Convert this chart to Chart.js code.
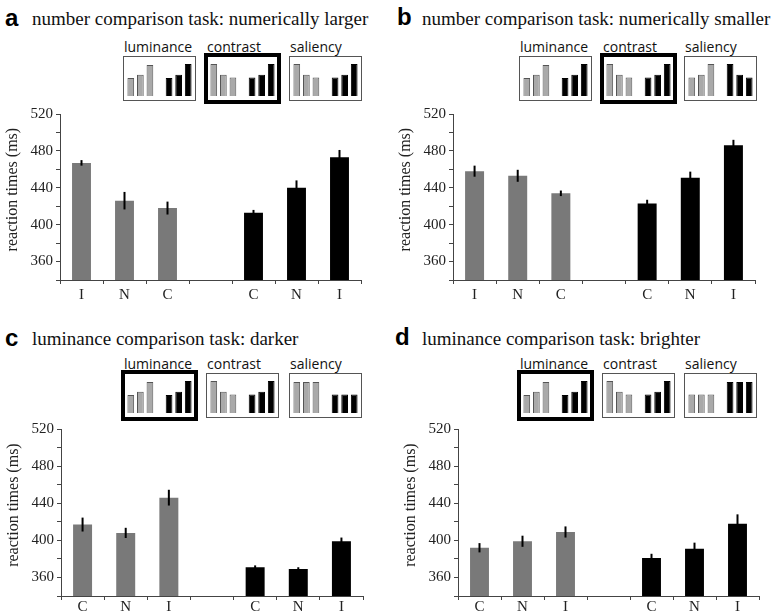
<!DOCTYPE html>
<html>
<head>
<meta charset="utf-8">
<script src="https://cdn.jsdelivr.net/npm/chart.js@4.4.1/dist/chart.umd.min.js"></script>
<style>
  body { margin: 0; background: #fff; width: 777px; height: 616px; position: relative; overflow: hidden; }
  .abs { position: absolute; }
  .letter { font: bold 24px "Liberation Sans", Arial, sans-serif; line-height: 24px; color: #000; }
  .title { font: 19px "Liberation Serif", "Times New Roman", serif; line-height: 19px; white-space: nowrap; color: #111; }
  .ilabel { font: 14px "Open Sans", sans-serif; line-height: 14px; white-space: nowrap; color: #111; }
  .ibox { box-sizing: border-box; border: 1px solid #555; background: #fff; }
  .ibox.bold { border: 4px solid #000; }
</style>
</head>
<body>
<script>
// categories
const catsNumber = ['I', 'N', 'C', '', 'C', 'N', 'I'];
const catsLuminance = ['C', 'N', 'I', '', 'C', 'N', 'I'];
const yTickLabels = [360, 400, 440, 480, 520];

// reaction times (ms)
const grayA = [467, 426, 418];
const blackA = [413, 440, 473];
const grayErrA = [3, 9.5, 7];
const blackErrA = [3, 8, 8];

const grayB = [458, 453, 434];
const blackB = [423, 451, 486];
const grayErrB = [6, 6.5, 3];
const blackErrB = [4, 6.5, 6];

const grayC = [417, 408, 446];
const blackC = [371, 369, 399];
const grayErrC = [7.5, 5.5, 8.5];
const blackErrC = [2, 2, 4];

const grayD = [392, 399, 409];
const blackD = [381, 391, 418];
const grayErrD = [5, 6, 6];
const blackErrD = [4.5, 6.5, 10];

// little pictograms above each panel
const iconLumGray = [56, 66, 97];
const iconLumBlack = [56, 66, 100];
const iconConGray = [100, 66, 58];
const iconConBlack = [58, 66, 100];
const iconSalGrayA = [100, 66, 58];
const iconSalBlackA = [58, 66, 100];
const iconSalGrayB = [58, 66, 100];
const iconSalBlackB = [100, 66, 58];
const iconSalGrayC = [97, 97, 97];
const iconSalBlackC = [58, 58, 58];
const iconSalGrayD = [58, 58, 58];
const iconSalBlackD = [97, 97, 97];

const GRAY = '#797979';
const SERIF = '"Liberation Serif", "Times New Roman", serif';

// error bars drawn through the y scale
const errorBarPlugin = {
  id: 'errorBars',
  afterDatasetsDraw(chart, args, opts) {
    const meta = chart.getDatasetMeta(0);
    const y = chart.scales.y;
    const vals = chart.data.datasets[0].data;
    const ctx = chart.ctx;
    ctx.save();
    ctx.strokeStyle = '#000';
    ctx.lineWidth = 2;
    opts.errors.forEach((e, i) => {
      if (e == null || vals[i] == null) return;
      const x = meta.data[i].x;
      ctx.beginPath();
      ctx.moveTo(x, y.getPixelForValue(vals[i] + e));
      ctx.lineTo(x, y.getPixelForValue(vals[i] - e));
      ctx.stroke();
    });
    ctx.restore();
  }
};

// rotated axis title, placed a bit above the middle like the original
const yTitlePlugin = {
  id: 'yTitle',
  afterDraw(chart) {
    const y = chart.scales.y;
    const ctx = chart.ctx;
    ctx.save();
    ctx.translate(y.right - 47, y.getPixelForValue(438));
    ctx.rotate(-Math.PI / 2);
    ctx.font = '16px ' + SERIF;
    ctx.textAlign = 'center';
    ctx.textBaseline = 'middle';
    ctx.fillStyle = '#222';
    ctx.fillText('reaction times (ms)', 0, 0);
    ctx.restore();
  }
};

function addDiv(cls, left, top, w, h, text) {
  const d = document.createElement('div');
  d.className = 'abs ' + cls;
  d.style.left = left + 'px';
  d.style.top = top + 'px';
  if (w) d.style.width = w + 'px';
  if (h) d.style.height = h + 'px';
  if (text) d.textContent = text;
  document.body.appendChild(d);
  return d;
}

function addCanvas(left, top, w, h) {
  const wrap = addDiv('', left, top, w, h);
  const c = document.createElement('canvas');
  wrap.appendChild(c);
  return c;
}

function mainChart(p) {
  const canvas = addCanvas(p.left, p.top, p.w, p.h);
  const values = [...p.gray, null, ...p.black];
  const errors = [...p.grayErr, null, ...p.blackErr];
  new Chart(canvas, {
    type: 'bar',
    data: {
      labels: p.labels,
      datasets: [{
        data: values,
        backgroundColor: values.map((_, i) => i < 3 ? GRAY : '#000'),
        borderWidth: 0,
        barPercentage: 0.44,
        categoryPercentage: 1
      }]
    },
    options: {
      responsive: true,
      maintainAspectRatio: false,
      animation: false,
      layout: { padding: { top: 14, right: p.padR, left: 0, bottom: 0 } },
      plugins: {
        legend: { display: false },
        tooltip: { enabled: false },
        errorBars: { errors: errors }
      },
      scales: {
        x: {
          grid: { offset: true, drawOnChartArea: false, drawTicks: true, tickLength: 4, color: '#444' },
          border: { color: '#444', width: 1 },
          ticks: { font: { family: SERIF, size: 15 }, color: '#222', padding: p.tickPad, maxRotation: 0, autoSkip: false },
          afterFit: s => { s.height = p.xH; }
        },
        y: {
          min: 340,
          max: 520,
          grid: { drawOnChartArea: false, drawTicks: true, tickLength: 4, color: '#444' },
          border: { color: '#444', width: 1 },
          ticks: {
            stepSize: 20,
            autoSkip: false,
            font: { family: SERIF, size: 15 },
            color: '#222',
            padding: 3,
            callback: v => yTickLabels.includes(v) ? String(v) : ''
          },
          afterFit: s => { s.width = 60; }
        }
      }
    },
    plugins: [errorBarPlugin, yTitlePlugin]
  });
}

function iconChart(left, baseline, gray, black) {
  const canvas = addCanvas(left + 3, baseline - 33, 67, 33);
  const values = [...gray, null, ...black];
  new Chart(canvas, {
    type: 'bar',
    data: {
      labels: ['', '', '', '', '', '', ''],
      datasets: [{
        data: values,
        backgroundColor: values.map((_, i) => i < 3 ? '#a9a9a9' : '#000'),
        borderColor: values.map((_, i) => i < 3 ? '#555' : '#000'),
        borderWidth: 1,
        barPercentage: 0.7,
        categoryPercentage: 1
      }]
    },
    options: {
      responsive: true,
      maintainAspectRatio: false,
      animation: false,
      layout: { padding: 0 },
      plugins: { legend: { display: false }, tooltip: { enabled: false } },
      scales: {
        x: { display: false },
        y: { display: false, min: 0, max: 103 }
      }
    }
  });
}

function iconRow(slots, baseline, boldIndex, sets) {
  const names = ['luminance', 'contrast', 'saliency'];
  slots.forEach((x, i) => {
    if (i === boldIndex) {
      addDiv('ibox bold', x - 2, baseline - 43, 77, 51);
    } else {
      addDiv('ibox', x, baseline - 40, 73, 45);
    }
    addDiv('ilabel', x + 1, baseline - 40 - 4 - 12.4, 0, 0, names[i]);
    iconChart(x, baseline, sets[i][0], sets[i][1]);
  });
}

function header(letter, lx, ly, title, tx, ty) {
  addDiv('letter', lx, ly, 0, 0, letter);
  addDiv('title', tx, ty, 0, 0, title);
}

// panel a
header('a', 5, 6, 'number comparison task: numerically larger', 32, 9);
iconRow([123, 206, 289], 96, 1, [[iconLumGray, iconLumBlack], [iconConGray, iconConBlack], [iconSalGrayA, iconSalBlackA]]);
mainChart({ left: 0, top: 100, w: 380, h: 215, padR: 19, xH: 35, tickPad: 2,
  labels: catsNumber, gray: grayA, black: blackA, grayErr: grayErrA, blackErr: blackErrA });

// panel b
header('b', 397, 5, 'number comparison task: numerically smaller', 422, 9);
iconRow([519, 602, 684], 96, 1, [[iconLumGray, iconLumBlack], [iconConGray, iconConBlack], [iconSalGrayB, iconSalBlackB]]);
mainChart({ left: 393, top: 100, w: 380, h: 215, padR: 18, xH: 35, tickPad: 2,
  labels: catsNumber, gray: grayB, black: blackB, grayErr: grayErrB, blackErr: blackErrB });

// panel c
header('c', 5, 326, 'luminance comparison task: darker', 32, 329);
iconRow([123, 206, 289], 413, 0, [[iconLumGray, iconLumBlack], [iconConGray, iconConBlack], [iconSalGrayC, iconSalBlackC]]);
mainChart({ left: 1, top: 415, w: 380, h: 201, padR: 18, xH: 20, tickPad: -2,
  labels: catsLuminance, gray: grayC, black: blackC, grayErr: grayErrC, blackErr: blackErrC });

// panel d
header('d', 395, 325, 'luminance comparison task: brighter', 422, 329);
iconRow([519, 602, 684], 413, 0, [[iconLumGray, iconLumBlack], [iconConGray, iconConBlack], [iconSalGrayD, iconSalBlackD]]);
mainChart({ left: 398, top: 415, w: 378, h: 201, padR: 17, xH: 20, tickPad: -2,
  labels: catsLuminance, gray: grayD, black: blackD, grayErr: grayErrD, blackErr: blackErrD });
</script>
</body>
</html>
